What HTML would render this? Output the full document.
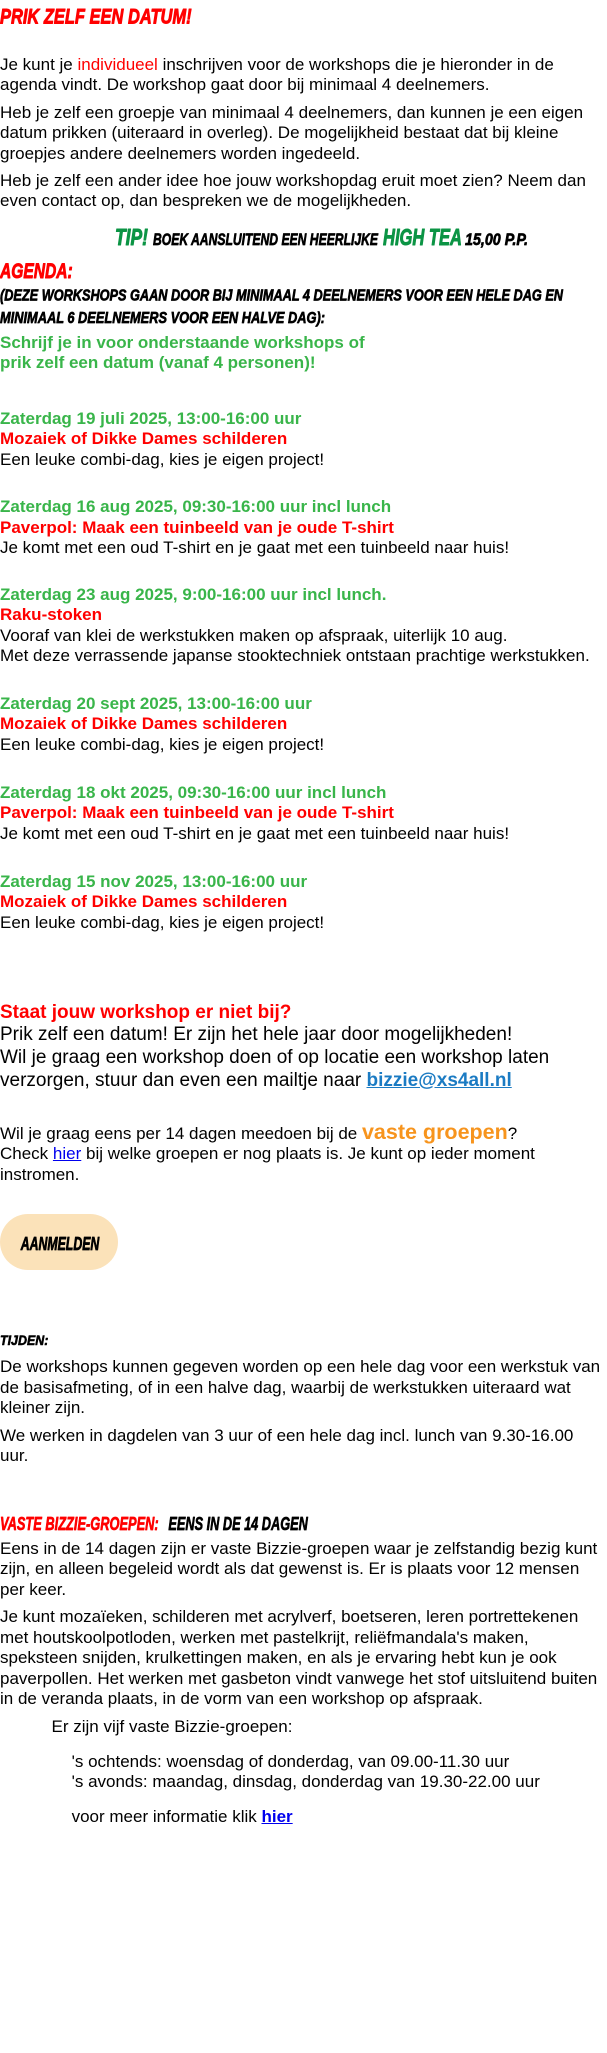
<!DOCTYPE html>
<html>
<head>
<meta charset="utf-8">
<style>
  html, body { margin:0; padding:0; background:#fff; }
  body { width:607px; height:2053px; position:relative; overflow:hidden;
         font-family:"Liberation Sans", Arial, Helvetica, sans-serif; color:#000; }
  .b { position:absolute; left:0; white-space:nowrap; font-size:17px; line-height:20.4px; }
  .big { font-size:19px; line-height:22.8px; }
  .red { color:#ff0000; }
  .grn { color:#39b54a; }
  .bold { font-weight:bold; }
  .date { color:#39b54a; font-weight:bold; }
  .ttl { color:#ff0000; font-weight:bold; }
  a { text-decoration:underline; }
  .lnk { color:#0000ee; }
  .mail { color:#1b7bc3; font-weight:bold; }
  .orange { color:#f7941d; font-weight:bold; font-size:21.5px; line-height:0; }
  .btn { position:absolute; left:0; top:1214px; width:118px; height:56px;
         border-radius:28px; background:#fbe2b9; }
  svg.ov { position:absolute; left:0; top:0; }
  svg.ov text { font-family:"Liberation Sans", Arial, sans-serif; font-weight:bold; font-style:italic; stroke-linejoin:round; }
</style>
</head>
<body>

<div class="b" style="top:54.6px">Je kunt je <span class="red">individueel</span> inschrijven voor de workshops die je hieronder in de<br>agenda vindt. De workshop gaat door bij minimaal 4 deelnemers.</div>

<div class="b" style="top:103px">Heb je zelf een groepje van minimaal 4 deelnemers, dan kunnen je een eigen<br>datum prikken (uiteraard in overleg). De mogelijkheid bestaat dat bij kleine<br>groepjes andere deelnemers worden ingedeeld.</div>

<div class="b" style="top:170.6px">Heb je zelf een ander idee hoe jouw workshopdag eruit moet zien? Neem dan<br>even contact op, dan bespreken we de mogelijkheden.</div>

<div class="b bold grn" style="top:333px">Schrijf je in voor onderstaande workshops of<br>prik zelf een datum (vanaf 4 personen)!</div>

<div class="b" style="top:409px"><span class="date">Zaterdag 19 juli 2025, 13:00-16:00 uur</span><br><span class="ttl">Mozaiek of Dikke Dames schilderen</span><br>Een leuke combi-dag, kies je eigen project!</div>

<div class="b" style="top:497.3px"><span class="date">Zaterdag 16 aug 2025, 09:30-16:00 uur incl lunch</span><br><span class="ttl">Paverpol: Maak een tuinbeeld van je oude T-shirt</span><br>Je komt met een oud T-shirt en je gaat met een tuinbeeld naar huis!</div>

<div class="b" style="top:585px"><span class="date">Zaterdag 23 aug 2025, 9:00-16:00 uur incl lunch.</span><br><span class="ttl">Raku-stoken</span><br>Vooraf van klei de werkstukken maken op afspraak, uiterlijk 10 aug.<br>Met deze verrassende japanse stooktechniek ontstaan prachtige werkstukken.</div>

<div class="b" style="top:694px"><span class="date">Zaterdag 20 sept 2025, 13:00-16:00 uur</span><br><span class="ttl">Mozaiek of Dikke Dames schilderen</span><br>Een leuke combi-dag, kies je eigen project!</div>

<div class="b" style="top:783px"><span class="date">Zaterdag 18 okt 2025, 09:30-16:00 uur incl lunch</span><br><span class="ttl">Paverpol: Maak een tuinbeeld van je oude T-shirt</span><br>Je komt met een oud T-shirt en je gaat met een tuinbeeld naar huis!</div>

<div class="b" style="top:871.7px"><span class="date">Zaterdag 15 nov 2025, 13:00-16:00 uur</span><br><span class="ttl">Mozaiek of Dikke Dames schilderen</span><br>Een leuke combi-dag, kies je eigen project!</div>

<div class="b big" style="top:1001.6px"><span class="ttl">Staat jouw workshop er niet bij?</span><br>Prik zelf een datum! Er zijn het hele jaar door mogelijkheden!<br>Wil je graag een workshop doen of op locatie een workshop laten<br>verzorgen, stuur dan even een mailtje naar <a class="mail"><span style="color:#39b54a"> </span>bizzie@xs4all.nl</a></div>

<div class="b" style="top:1124px">Wil je graag eens per 14 dagen meedoen bij de <span class="orange">vaste groepen</span>?<br>Check <a class="lnk">hier</a> bij welke groepen er nog plaats is. Je kunt op ieder moment<br>instromen.</div>

<div class="btn"></div>

<div class="b" style="top:1357.3px">De workshops kunnen gegeven worden op een hele dag voor een werkstuk van<br>de basisafmeting, of in een halve dag, waarbij de werkstukken uiteraard wat<br>kleiner zijn.</div>

<div class="b" style="top:1425.7px">We werken in dagdelen van 3 uur of een hele dag incl. lunch van 9.30-16.00<br>uur.</div>

<div class="b" style="top:1539px">Eens in de 14 dagen zijn er vaste Bizzie-groepen waar je zelfstandig bezig kunt<br>zijn, en alleen begeleid wordt als dat gewenst is. Er is plaats voor 12 mensen<br>per keer.</div>

<div class="b" style="top:1607.3px">Je kunt mozaïeken, schilderen met acrylverf, boetseren, leren portrettekenen<br>met houtskoolpotloden, werken met pastelkrijt, reliëfmandala's maken,<br>speksteen snijden, krulkettingen maken, en als je ervaring hebt kun je ook<br>paverpollen. Het werken met gasbeton vindt vanwege het stof uitsluitend buiten<br>in de veranda plaats, in de vorm van een workshop op afspraak.</div>

<div class="b" style="top:1717.3px; left:51.5px">Er zijn vijf vaste Bizzie-groepen:</div>

<div class="b" style="top:1751.5px; left:71.6px">'s ochtends: woensdag of donderdag, van 09.00-11.30 uur<br>'s avonds: maandag, dinsdag, donderdag van 19.30-22.00 uur</div>

<div class="b" style="top:1807.3px; left:71.6px">voor meer informatie klik <a class="lnk bold">hier</a></div>

<svg class="ov" width="607" height="2053" viewBox="0 0 607 2053" xmlns="http://www.w3.org/2000/svg">
  <text x="0" y="23.3" font-size="21" fill="#ff0000" stroke="#ff0000" stroke-width="0.9" textLength="191.6" lengthAdjust="spacingAndGlyphs">PRIK ZELF EEN DATUM!</text>

  <text x="115" y="245" font-size="22.7" fill="#0b9444" stroke="#0b9444" stroke-width="0.9" textLength="33" lengthAdjust="spacingAndGlyphs">TIP!</text>
  <text x="153" y="245" font-size="16.3" fill="#000" stroke="#000" stroke-width="0.7" textLength="225" lengthAdjust="spacingAndGlyphs">BOEK AANSLUITEND EEN HEERLIJKE</text>
  <text x="383" y="245" font-size="22.7" fill="#0b9444" stroke="#0b9444" stroke-width="0.9" textLength="79" lengthAdjust="spacingAndGlyphs">HIGH TEA</text>
  <text x="465" y="245" font-size="16.3" fill="#000" stroke="#000" stroke-width="0.7" textLength="63" lengthAdjust="spacingAndGlyphs">15,00 P.P.</text>

  <text x="0" y="278" font-size="21" fill="#ff0000" stroke="#ff0000" stroke-width="0.9" textLength="72.7" lengthAdjust="spacingAndGlyphs">AGENDA:</text>
  <text x="0" y="300.7" font-size="15.8" fill="#000" stroke="#000" stroke-width="0.7" textLength="563" lengthAdjust="spacingAndGlyphs">(DEZE WORKSHOPS GAAN DOOR BIJ MINIMAAL 4 DEELNEMERS VOOR EEN HELE DAG EN</text>
  <text x="0" y="323" font-size="15.8" fill="#000" stroke="#000" stroke-width="0.7" textLength="325" lengthAdjust="spacingAndGlyphs">MINIMAAL 6 DEELNEMERS VOOR EEN HALVE DAG):</text>

  <text x="20.7" y="1250" font-size="18.6" fill="#000" stroke="#000" stroke-width="0.8" textLength="78.6" lengthAdjust="spacingAndGlyphs">AANMELDEN</text>

  <text x="0" y="1345" font-size="14" fill="#000" stroke="#000" stroke-width="0.6" textLength="48.4" lengthAdjust="spacingAndGlyphs">TIJDEN:</text>

  <text x="0" y="1530" font-size="18" fill="#ff0000" stroke="#ff0000" stroke-width="0.7" textLength="158.7" lengthAdjust="spacingAndGlyphs">VASTE BIZZIE-GROEPEN:</text>
  <text x="168.4" y="1530" font-size="18" fill="#000" stroke="#000" stroke-width="0.7" textLength="139.4" lengthAdjust="spacingAndGlyphs">EENS IN DE 14 DAGEN</text>
</svg>

</body>
</html>
